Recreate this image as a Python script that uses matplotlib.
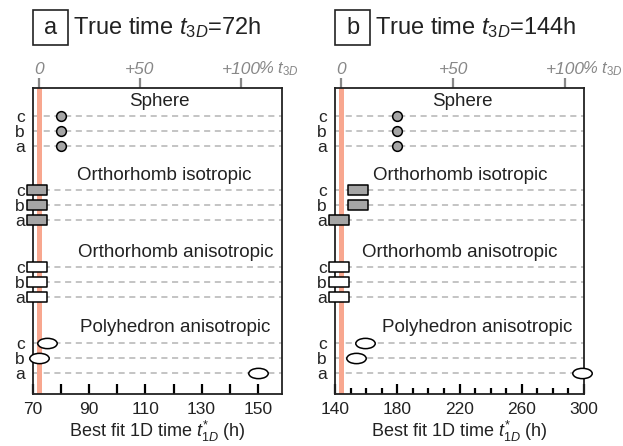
"""
Best fit 1D time vs true 3D time for the four crystal shapes (runs a, b, c)
"""

import numpy as np
import matplotlib.pyplot as plt
from matplotlib.path import Path
from matplotlib.patches import Rectangle
from matplotlib.transforms import Affine2D
from matplotlib.ticker import MultipleLocator

plt.rcParams['font.family'] = ['Liberation Sans', 'DejaVu Sans']
plt.rcParams['mathtext.fontset'] = 'custom'
plt.rcParams['mathtext.rm'] = 'Liberation Sans'
plt.rcParams['mathtext.it'] = 'Liberation Sans:italic'

# data (order of each list: run c, b, a)
SHAPES = ['Sphere', 'Orthorhomb isotropic', 'Orthorhomb anisotropic', 'Polyhedron anisotropic']
RUNS = ['c', 'b', 'a']
T_TRUE = [72, 144]

sphere_72 = [80, 80, 80]
orthoIso_72 = [71.5, 71.5, 71.5]
orthoAniso_72 = [71.4, 71.4, 71.4]
poly_72 = [75, 72.2, 150]

sphere_144 = [180, 180, 180]
orthoIso_144 = [154.5, 154.5, 142.7]
orthoAniso_144 = [142.6, 142.6, 142.6]
poly_144 = [159.5, 153.4, 298.5]

# marker shapes
rectPath = Path([(-1, -0.47), (1, -0.47), (1, 0.47), (-1, 0.47), (-1, -0.47)],
                [Path.MOVETO, Path.LINETO, Path.LINETO, Path.LINETO, Path.CLOSEPOLY])
ellPath = Affine2D().scale(1, 0.53).transform_path(Path.unit_circle())

GRAY = '#a5a5a5'
SALMON = '#f8a78f'
MARKERS = [('o', 7, GRAY), (rectPath, 14, GRAY), (rectPath, 14, 'white'), (ellPath, 14, 'white')]
ROW_Y = [[0, 1, 2], [4.93, 5.9, 6.9], [10.07, 11.07, 12.07], [15.13, 16.13, 17.13]]

# per-panel settings
panels = [
    dict(letter='a', tTrue=T_TRUE[0], data=[sphere_72, orthoIso_72, orthoAniso_72, poly_72],
         xlim=(70, 158.6), ticks=np.arange(70, 160, 20), minorLen=7,
         left=33, textX=[0.508, 0.528, 0.573, 0.573]),
    dict(letter='b', tTrue=T_TRUE[1], data=[sphere_144, orthoIso_144, orthoAniso_144, poly_144],
         xlim=(140, 300), ticks=np.arange(140, 301, 40), minorLen=4,
         left=335, textX=[0.51, 0.502, 0.502, 0.57]),
]

W, H = 623, 446
fig = plt.figure(figsize=(W / 100, H / 100), dpi=100)

for p in panels:
    ax = fig.add_axes([p['left'] / W, 1 - 394 / H, 249 / W, 306 / H])
    ax.set_xlim(*p['xlim'])
    ax.set_ylim(18.53, -1.87)

    ax.axvline(p['tTrue'], color=SALMON, lw=3.6, zorder=1)

    yTicks = []
    for shape, vals, rows, (mk, ms, fc), tx in zip(SHAPES, p['data'], ROW_Y, MARKERS, p['textX']):
        for y in rows:
            ax.axhline(y, color='#b4b4b4', ls=(0, (4, 3)), lw=1.1, zorder=0)
        ax.plot(vals, rows, ls='none', marker=mk, markersize=ms, markerfacecolor=fc,
                markeredgecolor='black', markeredgewidth=1.1, zorder=3, clip_on=False)
        ax.text(tx, rows[0] - 1.0, shape, transform=ax.get_yaxis_transform(),
                ha='center', va='center', fontsize=13.5, color='#222222')
        yTicks += rows

    ax.set_yticks(yTicks)
    ax.set_yticklabels(RUNS * 4, fontsize=12.5, color='#222222')
    ax.tick_params(axis='y', length=0, pad=6)

    ax.set_xticks(p['ticks'])
    ax.xaxis.set_minor_locator(MultipleLocator(10))
    ax.tick_params(axis='x', which='major', direction='in', length=7, width=1.6, labelsize=12.5, pad=6,
                   labelcolor='#222222')
    ax.tick_params(axis='x', which='minor', direction='in', length=p['minorLen'], width=1.6)
    ax.set_xlabel(r'Best fit 1D time $\mathit{t}^{*}_{\mathit{1D}}$ (h)', fontsize=13, color='#222222', labelpad=1)

    for sp in ax.spines.values():
        sp.set_linewidth(1.3)
        sp.set_color('#222222')

    # relative scale on top
    tt = p['tTrue']
    sec = ax.secondary_xaxis('top', functions=(lambda x, tt=tt: (x - tt) / tt * 100,
                                               lambda r, tt=tt: tt * (1 + r / 100)))
    sec.set_xticks([0, 50, 100])
    sec.set_xticklabels(['0', '+50', '+100'], fontstyle='italic')
    sec.tick_params(axis='x', direction='out', length=7, width=1.6, color='#888888',
                    labelcolor='#888888', labelsize=12.5, pad=1)
    sec.spines['top'].set_visible(False)
    ax.annotate(r'% $\mathit{t}_{\mathit{3D}}$', xy=(2 * tt, 1), xycoords=('data', 'axes fraction'),
                xytext=(12, 10.5), textcoords='offset points', ha='left', va='baseline',
                fontsize=12, color='#888888', style='italic')

    # panel title with boxed letter
    x0 = p['left']
    fig.patches.append(Rectangle((x0 / W, 1 - 45 / H), 35 / W, 35 / H, transform=fig.transFigure,
                                 fill=False, lw=1.2, edgecolor='#222222'))
    fig.text((x0 + 17.5) / W, 1 - 28 / H, p['letter'], ha='center', va='center', fontsize=17, color='#222222')
    fig.text((x0 + 40) / W, 1 - 28 / H, r'True time $\mathit{t}_{\mathit{3D}}$=%dh' % tt,
             ha='left', va='center', fontsize=17, color='#222222')

fig.savefig('out.png', dpi=100)
